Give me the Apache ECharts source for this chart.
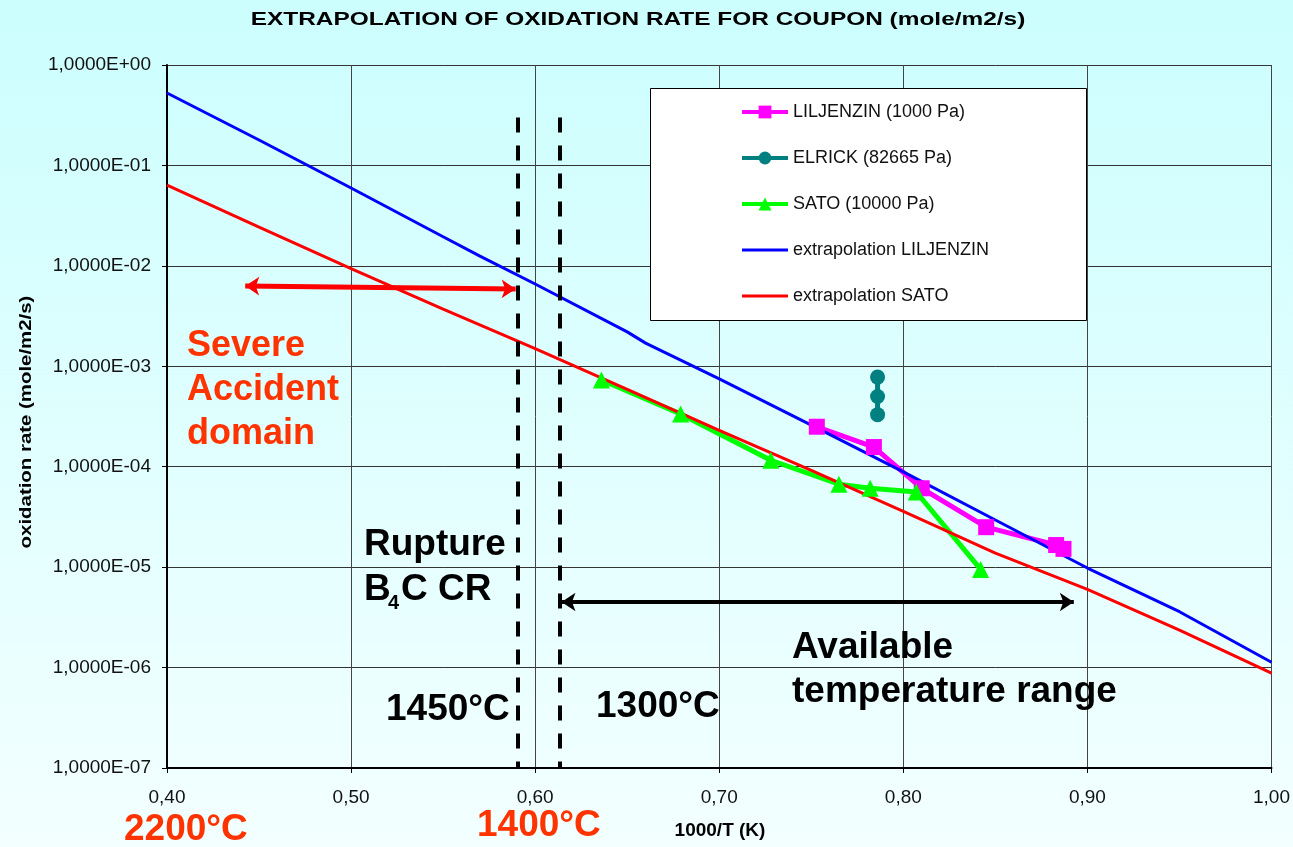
<!DOCTYPE html>
<html>
<head>
<meta charset="utf-8">
<title>Extrapolation of oxidation rate</title>
<script src="https://cdn.jsdelivr.net/npm/echarts@6/dist/echarts.min.js"></script>
<style>
    html, body {margin: 0; padding: 0;}
    #main {width: 1293px; height: 847px;}
</style>
</head>
<body>
<div id="main"></div>
<script>
// measured points, 1000/T (K) -> oxidation rate (mole/m2/s)
var liljX = [0.753, 0.784, 0.810, 0.845, 0.883, 0.887];
var liljY = [2.5e-4, 1.57e-4, 6.1e-5, 2.5e-5, 1.66e-5, 1.52e-5];
var elrickX = [0.786, 0.786, 0.786];
var elrickY = [7.8e-4, 5.0e-4, 3.3e-4];
var satoX = [0.636, 0.679, 0.728, 0.765, 0.782, 0.807, 0.842];
var satoY = [7.3e-4, 3.35e-4, 1.16e-4, 6.7e-5, 6.1e-5, 5.6e-5, 9.5e-6];

// extrapolation curves
var extLiljX = [0.40, 0.45, 0.50, 0.55, 0.57, 0.60, 0.65, 0.66, 0.70, 0.75, 0.80, 0.85, 0.90, 0.95, 1.00];
var extLiljY = [0.526, 0.179, 0.0596, 0.0195, 0.0125, 6.6e-3, 2.2e-3, 1.7e-3, 7.5e-4, 2.6e-4, 8.9e-5, 2.95e-5, 9.8e-6, 3.6e-6, 1.13e-6];
var extSatoX = [0.40, 0.45, 0.50, 0.55, 0.60, 0.65, 0.70, 0.75, 0.80, 0.85, 0.90, 0.95, 1.00];
var extSatoY = [0.0638, 0.0243, 9.4e-3, 3.7e-3, 1.5e-3, 5.9e-4, 2.3e-4, 9.2e-5, 3.6e-5, 1.38e-5, 6.0e-6, 2.36e-6, 8.8e-7];

// annotations (in data units)
var limitX = [0.5905, 0.6132];          // 1450°C / 1300°C dashed lines
var limitTop = 0.3;
var severeArrow = [[0.4425, 6.3e-3], [0.5894, 5.87e-3]];
var rangeArrow = [[0.6143, 4.5e-6], [0.8926, 4.5e-6]];

var seriesNames = ['LILJENZIN (1000 Pa)', 'ELRICK (82665 Pa)', 'SATO (10000 Pa)',
    'extrapolation LILJENZIN', 'extrapolation SATO'];

function pairs(xs, ys) {
    return xs.map(function (x, i) { return [x, ys[i]]; });
}

var FONT = '"Liberation Sans", Arial, sans-serif';
var ORANGE = '#ff3300';
// plain line icon for the legend (tiny corner segments keep the 46x16 box)
var LINE_ICON = 'path://M0,0L0.01,0ZM0,16L0.01,16ZM46,0L46.01,0ZM0,6.5H46V9.5H0Z';

function bigText(txt, x, y, color, extra) {
    var el = {
        type: 'text', x: x, y: y, z: 20,
        style: {
            text: txt,
            font: 'bold 37px ' + FONT,
            fill: color,
            align: 'left', textAlign: 'left',
            verticalAlign: 'middle', textVerticalAlign: 'middle',
            lineHeight: 44
        }
    };
    if (extra) Object.assign(el.style, extra);
    return el;
}

var myChart = echarts.init(document.getElementById('main'));

var markLines = [];
limitX.forEach(function (x) {
    markLines.push([{coord: [x, limitTop], symbol: 'none'}, {coord: [x, 1e-7], symbol: 'none'}]);
});

var option = {
    animation: false,
    backgroundColor: new echarts.graphic.LinearGradient(0, 0, 0, 1, [
        {offset: 0, color: '#ccfefe'},
        {offset: 1, color: '#f3ffff'}
    ]),
    grid: {
        left: 167,
        right: 20,
        top: 65,
        bottom: 79
    },
    legend: {
        data: [
            {name: seriesNames[0]},
            {name: seriesNames[1]},
            {name: seriesNames[2]},
            {name: seriesNames[3], icon: LINE_ICON},
            {name: seriesNames[4], icon: LINE_ICON}
        ],
        orient: 'vertical',
        left: 740,
        top: 103,
        padding: 0,
        itemWidth: 46,
        itemHeight: 16,
        itemGap: 28,
        z: 6,
        lineStyle: {width: 4},
        textStyle: {fontSize: 18, color: '#111', fontFamily: FONT}
    },
    xAxis: {
        type: 'value',
        min: 0.4,
        max: 1.0,
        interval: 0.1,
        axisLine: {onZero: false, lineStyle: {color: '#000', width: 2}},
        axisTick: {show: true, length: 5, lineStyle: {color: '#000'}},
        axisLabel: {
            margin: 20,
            fontSize: 19,
            color: '#111',
            fontFamily: FONT,
            formatter: function (v) { return v.toFixed(2).replace('.', ','); }
        },
        splitLine: {show: true, lineStyle: {color: '#444', width: 1}}
    },
    yAxis: {
        type: 'log',
        logBase: 10,
        min: 1e-7,
        max: 1,
        interval: 1,
        axisLine: {lineStyle: {color: '#000', width: 2}},
        axisTick: {show: true, length: 5, lineStyle: {color: '#000'}},
        minorTick: {show: false},
        axisLabel: {
            margin: 16,
            fontSize: 19,
            color: '#111',
            fontFamily: FONT,
            formatter: function (v) {
                var e = Math.round(Math.log10(v));
                var s = Math.abs(e) < 10 ? '0' + Math.abs(e) : '' + Math.abs(e);
                return '1,0000E' + (e < 0 ? '-' : '+') + s;
            }
        },
        splitLine: {show: true, lineStyle: {color: '#333', width: 1}}
    },
    series: [{
        name: seriesNames[0],
        type: 'line',
        data: pairs(liljX, liljY),
        symbol: 'rect',
        symbolSize: 16,
        itemStyle: {color: '#ff00ff'},
        lineStyle: {color: '#ff00ff', width: 5}
    }, {
        name: seriesNames[1],
        type: 'line',
        data: pairs(elrickX, elrickY),
        symbol: 'circle',
        symbolSize: 15,
        itemStyle: {color: '#008080'},
        lineStyle: {color: '#008080', width: 5}
    }, {
        name: seriesNames[2],
        type: 'line',
        data: pairs(satoX, satoY),
        symbol: 'triangle',
        symbolSize: 17,
        itemStyle: {color: '#00ff00'},
        lineStyle: {color: '#00ff00', width: 5}
    }, {
        name: seriesNames[3],
        type: 'line',
        data: pairs(extLiljX, extLiljY),
        symbol: 'none',
        itemStyle: {color: '#0000ff'},
        lineStyle: {color: '#0000ff', width: 3}
    }, {
        name: seriesNames[4],
        type: 'line',
        data: pairs(extSatoX, extSatoY),
        symbol: 'none',
        itemStyle: {color: '#ff0000'},
        lineStyle: {color: '#ff0000', width: 3}
    }, {
        // annotation helper: dashed limits + arrows
        name: 'annot',
        type: 'line',
        data: [],
        silent: true,
        markLine: {
            silent: true,
            label: {show: false},
            symbol: 'none',
            lineStyle: {color: '#000', width: 4, type: [15, 13]},
            data: markLines.concat([
                [{coord: severeArrow[0], symbol: 'arrow', symbolSize: 14,
                    lineStyle: {color: '#ff0000', width: 5, type: 'solid'}},
                    {coord: severeArrow[1], symbol: 'arrow', symbolSize: 14}],
                [{coord: rangeArrow[0], symbol: 'arrow', symbolSize: 14,
                    lineStyle: {color: '#000', width: 4, type: 'solid'}},
                    {coord: rangeArrow[1], symbol: 'arrow', symbolSize: 14}]
            ])
        }
    }],
    graphic: [
        // chart title (stretched like the original)
        {
            type: 'text', x: 638, y: 20, scaleX: 1.285, z: 20,
            style: {
                text: 'EXTRAPOLATION OF OXIDATION RATE FOR COUPON (mole/m2/s)',
                font: 'bold 19px ' + FONT, fill: '#000',
                align: 'center', textAlign: 'center',
                verticalAlign: 'middle', textVerticalAlign: 'middle'
            }
        },
        // y axis title
        {
            type: 'text', x: 26, y: 422, rotation: Math.PI / 2, scaleX: 1.2, z: 20,
            style: {
                text: 'oxidation rate (mole/m2/s)',
                font: 'bold 17px ' + FONT, fill: '#000',
                align: 'center', textAlign: 'center',
                verticalAlign: 'middle', textVerticalAlign: 'middle'
            }
        },
        // x axis title
        {
            type: 'text', x: 720, y: 831, z: 20,
            style: {
                text: '1000/T (K)',
                font: 'bold 19px ' + FONT, fill: '#000',
                align: 'center', textAlign: 'center',
                verticalAlign: 'middle', textVerticalAlign: 'middle'
            }
        },
        // legend frame
        {
            type: 'rect', z: 3,
            shape: {x: 650.5, y: 88.5, width: 436, height: 232},
            style: {fill: '#fff', stroke: '#000', lineWidth: 1}
        },
        bigText('Severe\nAccident\ndomain', 187, 390, ORANGE, {font: 'bold 36px ' + FONT}),
        bigText('Rupture', 364, 545, '#000'),
        bigText('B', 364, 590, '#000'),
        bigText('4', 388, 603, '#000', {font: 'bold 20px ' + FONT}),
        bigText('C CR', 401, 590, '#000'),
        bigText('1450°C', 386, 710, '#000'),
        bigText('1300°C', 596, 707, '#000'),
        bigText('Available\ntemperature range', 792, 670, '#000'),
        bigText('2200°C', 124, 830, ORANGE),
        bigText('1400°C', 477, 826, ORANGE)
    ]
};

myChart.setOption(option);
window.onresize = myChart.resize;
</script>
</body>
</html>
